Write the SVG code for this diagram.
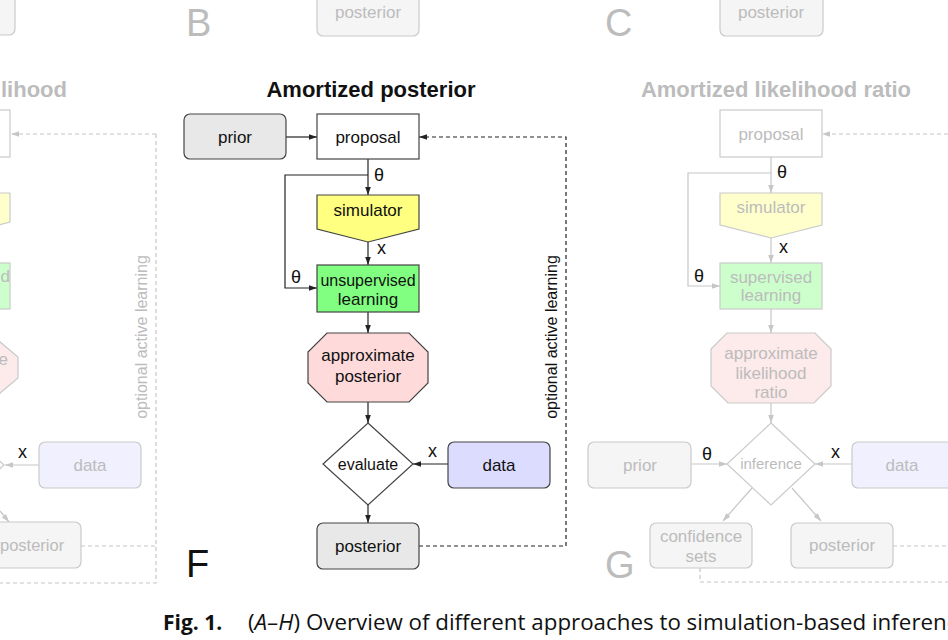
<svg xmlns="http://www.w3.org/2000/svg" width="948" height="640" viewBox="0 0 948 640">
<defs>
<style>
.t{font-family:"Liberation Sans",Arial,sans-serif;font-size:17px;fill:#111;text-anchor:middle}
.fd{fill:#bcbcbc}
.ttl{font-family:"Liberation Sans",Arial,sans-serif;font-size:22px;font-weight:bold;text-anchor:middle}
.big{font-family:"Liberation Sans",Arial,sans-serif;font-size:38px}
.lab{font-family:"Liberation Sans",Arial,sans-serif;font-size:18px;fill:#111}
.box{stroke:#444;stroke-width:1.2}
.fbox{stroke:#cacaca;stroke-width:1.2}
.c{fill:none;stroke:#222;stroke-width:1.2}
.fc{fill:none;stroke:#c6c6c6;stroke-width:1.2}
.d{stroke-dasharray:4 3}
.cap{font-family:"Open Sans","Noto Sans",sans-serif;font-size:21px;fill:#111}
</style>
<marker id="arr" viewBox="0 0 10 10" refX="10" refY="5" markerWidth="8" markerHeight="8" markerUnits="userSpaceOnUse" orient="auto"><path d="M0,1.5 L10,5 L0,8.5 z" fill="#222"/></marker>
<marker id="farr" viewBox="0 0 10 10" refX="10" refY="5" markerWidth="8" markerHeight="8" markerUnits="userSpaceOnUse" orient="auto"><path d="M0,1.5 L10,5 L0,8.5 z" fill="#c6c6c6"/></marker>
</defs>
<rect width="948" height="640" fill="#ffffff"/>

<!-- connectors -->
<g id="connectors">
  <!-- left faded panel -->
  <path class="fc d" d="M156,134 H11" marker-end="url(#farr)"/>
  <path class="fc d" d="M156,134 V583 H0"/>
  <path class="fc d" d="M81,546 H156"/>
  <path class="fc" d="M39,465 H5" marker-end="url(#farr)"/>
  <path class="fc" d="M0,511 L9,522" marker-end="url(#farr)"/>
  <!-- center panel -->
  <path class="c" d="M286,137 H317" marker-end="url(#arr)"/>
  <path class="c" d="M368,159 V195" marker-end="url(#arr)"/>
  <path class="c" d="M368,175 H285 V288 H317" marker-end="url(#arr)"/>
  <path class="c" d="M368,242 V265" marker-end="url(#arr)"/>
  <path class="c" d="M368,312 V333" marker-end="url(#arr)"/>
  <path class="c" d="M368,402 V423" marker-end="url(#arr)"/>
  <path class="c" d="M448,464 H413" marker-end="url(#arr)"/>
  <path class="c" d="M368,505 V523" marker-end="url(#arr)"/>
  <path class="c d" d="M419,546 H566 V137 H419" marker-end="url(#arr)"/>
  <!-- right faded panel -->
  <path class="fc" d="M771,157 V193" marker-end="url(#farr)"/>
  <path class="fc" d="M771,173 H688 V286 H720" marker-end="url(#farr)"/>
  <path class="fc" d="M771,238 V263" marker-end="url(#farr)"/>
  <path class="fc" d="M771,309 V333" marker-end="url(#farr)"/>
  <path class="fc" d="M771,403 V423" marker-end="url(#farr)"/>
  <path class="fc" d="M691,464 H727" marker-end="url(#farr)"/>
  <path class="fc" d="M852,464 H815" marker-end="url(#farr)"/>
  <path class="fc" d="M752,488 L723,521" marker-end="url(#farr)"/>
  <path class="fc" d="M792,488 L821,521" marker-end="url(#farr)"/>
  <path class="fc d" d="M948,134 H822" marker-end="url(#farr)"/>
  <path class="fc d" d="M893,546 H948"/>
  <path class="fc d" d="M700,568 V582 H948"/>
</g>

<!-- connector labels -->
<g id="edge-labels">
  <text class="lab fd" x="18" y="458">x</text>
  <text class="lab" x="374" y="181">θ</text>
  <text class="lab" x="377" y="254">x</text>
  <text class="lab" x="291" y="283">θ</text>
  <text class="lab" x="428" y="457">x</text>
  <text class="lab fd" x="777" y="178">θ</text>
  <text class="lab fd" x="779" y="253">x</text>
  <text class="lab fd" x="694" y="282">θ</text>
  <text class="lab fd" x="702" y="460">θ</text>
  <text class="lab fd" x="831" y="458">x</text>
  <text class="t fd" transform="translate(147,337) rotate(-90)" style="font-size:16px">optional active learning</text>
  <text class="t" transform="translate(557,337) rotate(-90)" style="font-size:16px">optional active learning</text>
</g>

<!-- left faded panel -->
<g id="left-panel">
  <text class="ttl fd" x="1" y="97" style="text-anchor:start">lihood</text>
  <g id="left-top-box"><rect class="fbox" x="-90" y="-12" width="105" height="47" rx="6" fill="#f5f5f5"/></g>
  <g id="left-proposal"><rect class="fbox" x="-92" y="110" width="102" height="47" fill="#ffffff"/></g>
  <g id="left-simulator"><polygon class="fbox" points="-92,193 10,193 10,222 -41,236 -92,222" fill="#ffffcc"/></g>
  <g id="left-learning"><rect class="fbox" x="-92" y="263" width="102" height="46" fill="#ccffcc"/><text class="t fd" x="10" y="282" style="text-anchor:end">d</text></g>
  <g id="left-approx"><polygon class="fbox" points="-120,341 -1,341 18,357 18,378 -1,394 -120,394" fill="#fdeaea"/><text class="t fd" x="8" y="365" style="text-anchor:end">e</text></g>
  <g id="left-diamond"><polygon class="fbox" points="-41,424 4,465 -41,506 -86,465" fill="#ffffff"/></g>
  <g id="left-data"><rect class="fbox" x="39" y="442" width="102" height="46" rx="6" fill="#f0f0ff"/><text class="t fd" x="90" y="471">data</text></g>
  <g id="left-posterior"><rect class="fbox" x="-22" y="522" width="103" height="46" rx="6" fill="#f5f5f5"/><text class="t fd" x="0" y="551" style="text-anchor:start;font-size:16.5px">posterior</text></g>
</g>

<!-- top faded boxes and panel letters -->
<g id="B-posterior"><rect class="fbox" x="317" y="-12" width="102" height="48" rx="6" fill="#f5f5f5"/><text class="t fd" x="368" y="18">posterior</text></g>
<g id="C-posterior"><rect class="fbox" x="720" y="-12" width="103" height="48" rx="6" fill="#f5f5f5"/><text class="t fd" x="771" y="18">posterior</text></g>
<text class="big fd" x="186" y="36">B</text>
<text class="big fd" x="605" y="36">C</text>
<text class="big" x="186" y="577" fill="#111">F</text>
<text class="big fd" x="605" y="578">G</text>

<!-- center panel -->
<g id="center-panel">
  <text class="ttl" x="371" y="97" fill="#111">Amortized posterior</text>
  <g id="prior"><rect class="box" x="184" y="114" width="102" height="45" rx="6" fill="#e8e8e8"/><text class="t" x="235" y="143">prior</text></g>
  <g id="proposal"><rect class="box" x="317" y="114" width="102" height="45" fill="#ffffff"/><text class="t" x="368" y="143">proposal</text></g>
  <g id="simulator"><polygon class="box" points="317,195 419,195 419,229 368,242 317,229" fill="#ffff80"/><text class="t" x="368" y="216">simulator</text></g>
  <g id="unsupervised-learning"><rect class="box" x="317" y="265" width="102" height="47" fill="#80ff80"/><text class="t" x="368" y="286" style="font-size:16px">unsupervised</text><text class="t" x="368" y="305">learning</text></g>
  <g id="approximate-posterior"><polygon class="box" points="327,333 409,333 428,352 428,383 409,402 327,402 308,383 308,352" fill="#ffdada"/><text class="t" x="368" y="361">approximate</text><text class="t" x="368" y="382">posterior</text></g>
  <g id="evaluate"><polygon class="box" points="368,423 413,464 368,505 323,464" fill="#ffffff"/><text class="t" x="368" y="470" style="font-size:16px">evaluate</text></g>
  <g id="data"><rect class="box" x="448" y="442" width="102" height="46" rx="6" fill="#dcdcff"/><text class="t" x="499" y="471">data</text></g>
  <g id="posterior"><rect class="box" x="317" y="523" width="102" height="46" rx="6" fill="#e8e8e8"/><text class="t" x="368" y="552">posterior</text></g>
</g>

<!-- right faded panel -->
<g id="right-panel">
  <text class="ttl fd" x="776" y="97">Amortized likelihood ratio</text>
  <g id="r-proposal"><rect class="fbox" x="720" y="110" width="102" height="47" fill="#ffffff"/><text class="t fd" x="771" y="140">proposal</text></g>
  <g id="r-simulator"><polygon class="fbox" points="720,193 822,193 822,225 771,238 720,225" fill="#ffffcc"/><text class="t fd" x="771" y="213">simulator</text></g>
  <g id="r-supervised-learning"><rect class="fbox" x="720" y="263" width="102" height="46" fill="#ccffcc"/><text class="t fd" x="771" y="283">supervised</text><text class="t fd" x="771" y="301">learning</text></g>
  <g id="r-approx-ratio"><polygon class="fbox" points="727,333 815,333 831,349 831,386 814,403 728,403 711,386 711,349" fill="#fdeaea"/><text class="t fd" x="771" y="359">approximate</text><text class="t fd" x="771" y="379">likelihood</text><text class="t fd" x="771" y="398">ratio</text></g>
  <g id="r-inference"><polygon class="fbox" points="771,423 815,464 771,505 727,464" fill="#ffffff"/><text class="t fd" x="771" y="469" style="font-size:15px">inference</text></g>
  <g id="r-prior"><rect class="fbox" x="588" y="442" width="103" height="46" rx="6" fill="#f5f5f5"/><text class="t fd" x="640" y="471">prior</text></g>
  <g id="r-data"><rect class="fbox" x="852" y="442" width="110" height="46" rx="6" fill="#f0f0ff"/><text class="t fd" x="902" y="471">data</text></g>
  <g id="r-confidence-sets"><rect class="fbox" x="650" y="523" width="102" height="45" rx="6" fill="#f5f5f5"/><text class="t fd" x="701" y="542">confidence</text><text class="t fd" x="701" y="562">sets</text></g>
  <g id="r-posterior"><rect class="fbox" x="791" y="523" width="102" height="45" rx="6" fill="#f5f5f5"/><text class="t fd" x="842" y="551">posterior</text></g>
</g>

<!-- caption -->
<text class="cap" x="163" y="630" font-weight="bold">Fig. 1.</text>
<text class="cap" x="248" y="630" textLength="722" lengthAdjust="spacingAndGlyphs">(<tspan font-style="italic">A</tspan>–<tspan font-style="italic">H</tspan>) Overview of different approaches to simulation-based inference</text>
</svg>
